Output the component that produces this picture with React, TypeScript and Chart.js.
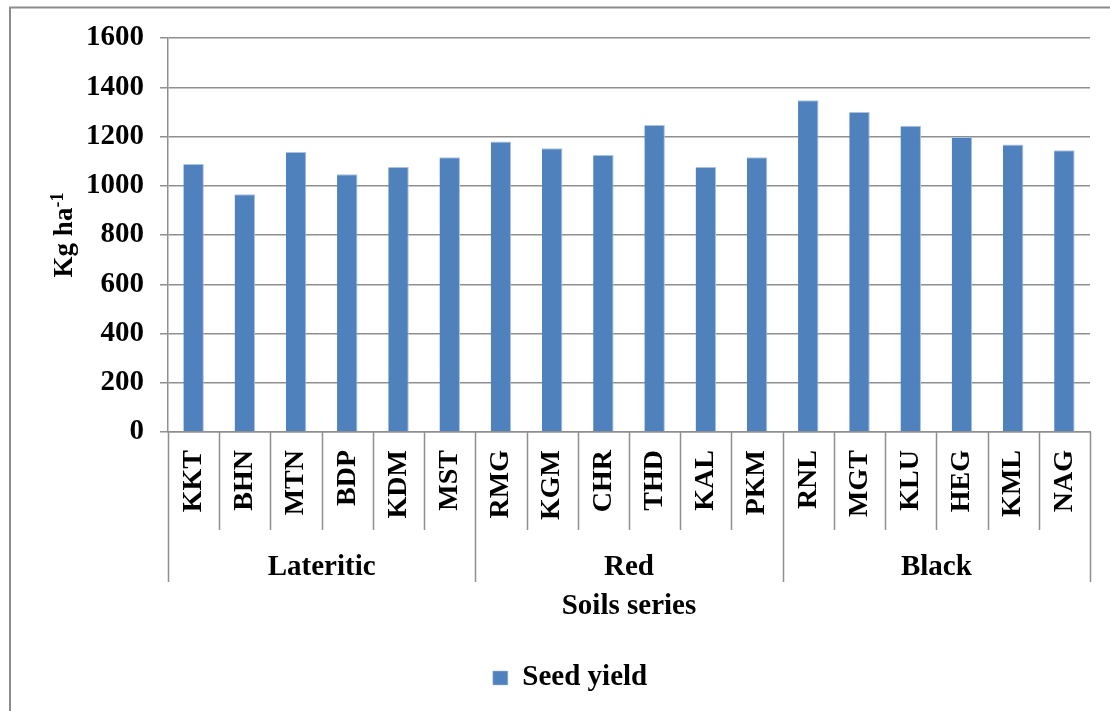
import React, { useEffect, useRef } from "react";
import { Chart, registerables } from "chart.js";

Chart.register(...registerables);

const seriesCodes = [
  "KKT", "BHN", "MTN", "BDP", "KDM", "MST",
  "RMG", "KGM", "CHR", "THD", "KAL", "PKM",
  "RNL", "MGT", "KLU", "HEG", "KML", "NAG",
];
const seedYield = [
  1088, 965, 1137, 1047, 1076, 1116,
  1180, 1152, 1125, 1247, 1076, 1116,
  1347, 1299, 1244, 1198, 1168, 1144,
];
const soilGroups = ["Lateritic", "Red", "Black"];
const groupSizes = [6, 6, 6];
const yTicks = [0, 200, 400, 600, 800, 1000, 1200, 1400, 1600];
const seriesName = "Seed yield";
const xTitle = "Soils series";
const yTitleMain = "Kg ha";
const yTitleSup = "-1";

const FONT = "'Liberation Serif', 'Times New Roman', serif";
const GRID = "#8f8f8f";
const BAR = "#4f81bd";

const decorPlugin = {
  id: "decor",
  afterDraw(chart: any) {
    const { ctx, chartArea } = chart;
    const xs = chart.scales.x;
    ctx.save();
    // outer frame
    ctx.strokeStyle = "#8c8c8c";
    ctx.lineWidth = 2;
    ctx.beginPath();
    ctx.moveTo(10, 711);
    ctx.lineTo(10, 7.5);
    ctx.lineTo(1110, 7.5);
    ctx.stroke();

    // category separators
    const n = seriesCodes.length;
    const boundary = (i: number) => {
      if (i === 0) return chartArea.left;
      if (i === n) return chartArea.right;
      return (xs.getPixelForValue(i - 1) + xs.getPixelForValue(i)) / 2;
    };
    const groupEdges = new Set<number>();
    let acc = 0;
    groupEdges.add(0);
    groupSizes.forEach((s) => {
      acc += s;
      groupEdges.add(acc);
    });
    ctx.strokeStyle = GRID;
    ctx.lineWidth = 1.5;
    for (let i = 0; i <= n; i++) {
      const x = Math.round(boundary(i)) + 0.5;
      ctx.beginPath();
      ctx.moveTo(x, chartArea.bottom);
      ctx.lineTo(x, groupEdges.has(i) ? 582 : 530);
      ctx.stroke();
    }

    // group labels
    ctx.fillStyle = "#000";
    ctx.font = `bold 29px ${FONT}`;
    ctx.textAlign = "center";
    ctx.textBaseline = "alphabetic";
    let start = 0;
    soilGroups.forEach((g, gi) => {
      const end = start + groupSizes[gi];
      const cx = (boundary(start) + boundary(end)) / 2;
      ctx.fillText(g, cx, 575);
      start = end;
    });

    // x title
    ctx.font = `bold 29px ${FONT}`;
    ctx.fillText(xTitle, (chartArea.left + chartArea.right) / 2, 614);

    // y title (rotated with superscript)
    ctx.translate(62, 235);
    ctx.rotate(-Math.PI / 2);
    ctx.font = `bold 27px ${FONT}`;
    const w1 = ctx.measureText(yTitleMain).width;
    ctx.font = `bold 18px ${FONT}`;
    const w2 = ctx.measureText(yTitleSup).width;
    const total = w1 + w2;
    ctx.textAlign = "left";
    ctx.font = `bold 27px ${FONT}`;
    ctx.fillText(yTitleMain, -total / 2, 10);
    ctx.font = `bold 18px ${FONT}`;
    ctx.fillText(yTitleSup, -total / 2 + w1, 1);
    ctx.restore();
  },
};

export default function App() {
  const ref = useRef<HTMLCanvasElement | null>(null);
  useEffect(() => {
    if (!ref.current) return;
    const chart = new Chart(ref.current, {
      type: "bar",
      data: {
        labels: seriesCodes,
        datasets: [
          {
            label: seriesName,
            data: seedYield,
            backgroundColor: BAR,
            borderColor: "#a9c2e0",
            borderWidth: { top: 1, right: 1, left: 0, bottom: 0 },
            barPercentage: 0.4,
            categoryPercentage: 1.0,
          },
        ],
      },
      options: {
        animation: false,
        responsive: false,
        devicePixelRatio: 1,
        layout: { padding: { left: 50, right: 20, top: 38, bottom: 8.5 } },
        plugins: {
          tooltip: { enabled: false },
          legend: {
            position: "bottom",
            labels: {
              color: "#000",
              font: { family: FONT, size: 29, weight: "bold" },
              boxWidth: 15,
              boxHeight: 14,
              padding: 10,
            },
          },
        },
        scales: {
          x: {
            grid: { display: false, drawTicks: false },
            border: { display: true, color: GRID, width: 1.5 },
            ticks: {
              autoSkip: false,
              minRotation: 90,
              maxRotation: 90,
              padding: 18,
              color: "#000",
              font: { family: FONT, size: 28, weight: "bold" },
            },
            afterFit(scale: any) {
              scale.height = 221.5;
              scale.paddingLeft = 0;
              scale.paddingRight = 0;
            },
          },
          y: {
            min: 0,
            max: 1600,
            afterBuildTicks(scale: any) {
              scale.ticks = yTicks.map((v) => ({ value: v }));
            },
            grid: { color: GRID, lineWidth: 1.5, tickLength: 8 },
            border: { display: true, color: GRID, width: 1.5 },
            ticks: {
              padding: 16,
              color: "#000",
              font: { family: FONT, size: 29, weight: "bold" },
              callback: (v: any) => String(v),
            },
            afterFit(scale: any) {
              scale.width = 118;
              scale.paddingTop = 0;
              scale.paddingBottom = 0;
            },
          },
        },
      },
      plugins: [decorPlugin],
    });
    return () => chart.destroy();
  }, []);
  return (
    <div style={{ position: "absolute", left: 0, top: 0, width: 1110, height: 711, background: "#fff" }}>
      <canvas ref={ref} width={1110} height={711} />
    </div>
  );
}
